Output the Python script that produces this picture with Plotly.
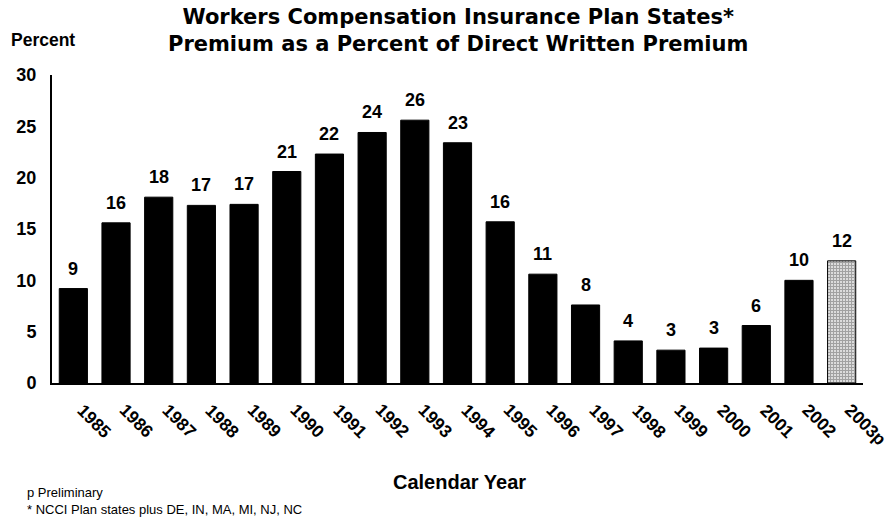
import plotly.graph_objects as go

# Residual market (plan) premium as % of direct written premium
years = ["1985", "1986", "1987", "1988", "1989", "1990", "1991", "1992", "1993", "1994",
         "1995", "1996", "1997", "1998", "1999", "2000", "2001", "2002", "2003p"]
values = [9.2, 15.6, 18.1, 17.3, 17.4, 20.6, 22.3, 24.4, 25.6, 23.4,
          15.7, 10.6, 7.6, 4.1, 3.2, 3.4, 5.6, 10.0, 11.9]
preliminary = ["2003p"]

y_ticks = [0, 5, 10, 15, 20, 25, 30]

FONT = "Liberation Sans, Arial, sans-serif"
TICK_SIZE = 17.5

bar_colors = ["white" if y in preliminary else "black" for y in years]
bar_shapes = ["+" if y in preliminary else "" for y in years]

fig = go.Figure()
fig.add_trace(go.Bar(
    x=years,
    y=values,
    marker=dict(
        color=bar_colors,
        line=dict(color="black", width=1),
        pattern=dict(shape=bar_shapes, fgcolor="black", size=3, solidity=0.7),
    ),
    showlegend=False,
    hoverinfo="skip",
))

# value labels above each bar (category index used as x position)
annotations = []
for i, v in enumerate(values):
    annotations.append(dict(
        x=i, y=v, xref="x", yref="y",
        text=f"{int(v + 0.5)}",
        showarrow=False, yanchor="bottom", yshift=8,
        font=dict(family=FONT, size=18, color="black", weight="bold"),
    ))


def text_width(s, size):
    # approximate advance width of bold Arial digits / lowercase p
    return sum(0.611 if c == "p" else 0.556 for c in s) * size


# slanted category labels, starting just right of each bar and running down-right
for i, yr in enumerate(years):
    half = text_width(yr, TICK_SIZE) / 2 * 0.7071
    annotations.append(dict(
        x=i, y=0, xref="x", yref="y", text=yr, textangle=45,
        xanchor="center", yanchor="middle", showarrow=False,
        xshift=7 + half, yshift=-(24 + half),
        font=dict(family=FONT, size=TICK_SIZE, color="black", weight="bold"),
    ))

PW, PH = 811, 308  # plot area size in px, used to place paper-referenced text


def px_x(x):
    return (x - 52) / PW


def px_y(y):
    return (383 - y) / PH


annotations += [
    dict(text="Workers Compensation Insurance Plan States*<br>Premium as a Percent of Direct Written Premium",
         xref="paper", yref="paper", x=px_x(458), y=px_y(30),
         xanchor="center", yanchor="middle", showarrow=False, align="center",
         font=dict(family="DejaVu Sans", size=21, color="black", weight="bold")),
    dict(text="Percent", xref="paper", yref="paper",
         x=px_x(43), y=px_y(40), xanchor="center", yanchor="middle",
         showarrow=False, font=dict(family=FONT, size=17.5, color="black", weight="bold")),
    dict(text="Calendar Year", xref="paper", yref="paper",
         x=px_x(460), y=px_y(482), xanchor="center", yanchor="middle",
         showarrow=False, font=dict(family=FONT, size=20, color="black", weight="bold")),
    dict(text="p Preliminary<br>* NCCI Plan states plus DE, IN, MA, MI, NJ, NC",
         xref="paper", yref="paper", x=px_x(25), y=px_y(501),
         xanchor="left", yanchor="middle", align="left", showarrow=False,
         font=dict(family=FONT, size=13, color="black")),
]

fig.update_layout(
    width=893, height=521,
    margin=dict(l=52, r=30, t=75, b=138),
    paper_bgcolor="white", plot_bgcolor="white",
    bargap=0.34,
    annotations=annotations,
    xaxis=dict(
        type="category", range=[-0.5, len(years) - 0.5],
        showline=True, linecolor="black", linewidth=2,
        showgrid=False, ticks="", showticklabels=False,
    ),
    yaxis=dict(
        range=[0, 30], tickvals=y_ticks,
        showline=True, linecolor="black", linewidth=2,
        showgrid=False, zeroline=False, ticks="",
        ticklabelstandoff=10,
        tickfont=dict(family=FONT, size=18, color="black", weight="bold"),
    ),
)

fig.write_html("out.html")
